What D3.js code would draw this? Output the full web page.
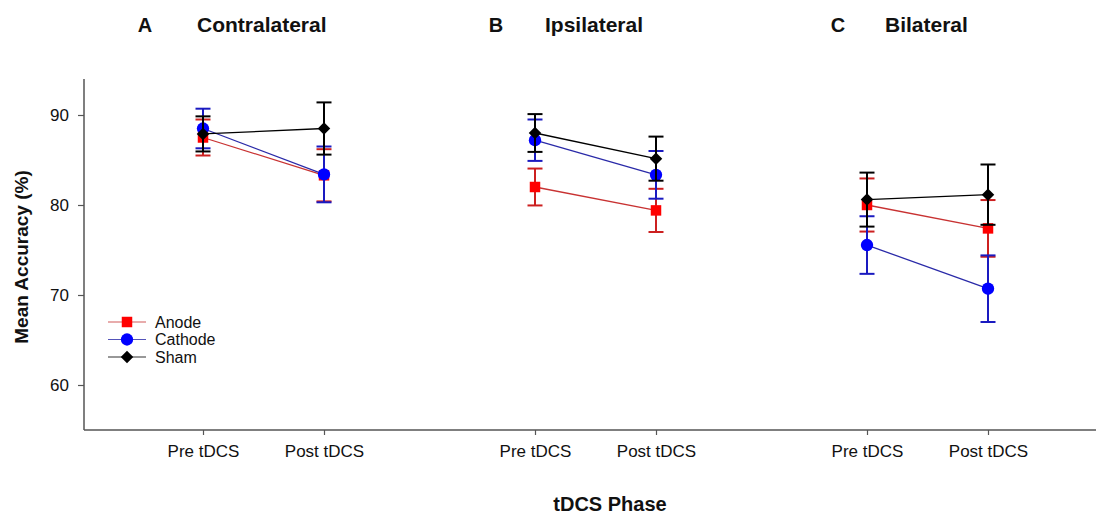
<!DOCTYPE html>
<html>
<head>
<meta charset="utf-8">
<script src="https://cdn.jsdelivr.net/npm/d3@7"></script>
<style>
  html, body { margin: 0; padding: 0; background: #fff; }
  svg { display: block; }
  text { font-family: "Liberation Sans", Arial, Helvetica, sans-serif; }
</style>
</head>
<body>
<svg id="chart" width="1096" height="518"></svg>
<script>
// ---- data ----
const panels = ["A", "B", "C"];
const panelNames = ["Contralateral", "Ipsilateral", "Bilateral"];
const phases = ["Pre tDCS", "Post tDCS"];
const seriesNames = ["Anode", "Cathode", "Sham"];
const yTicks = [60, 70, 80, 90];

// means per panel [pre, post]
const anodeMean   = [[87.5, 83.3], [82.0, 79.4], [80.0, 77.4]];
const anodeErr    = [[2.0, 2.9],   [2.05, 2.4], [2.95, 3.15]];
const cathodeMean = [[88.5, 83.4], [87.2, 83.35], [75.55, 70.7]];
const cathodeErr  = [[2.2, 3.1],   [2.3, 2.65],  [3.2, 3.7]];
const shamMean    = [[87.9, 88.5], [88.0, 85.15], [80.6, 81.15]];
const shamErr     = [[1.95, 2.9],  [2.1, 2.45],  [3.0, 3.35]];

// ---- layout ----
const svg = d3.select("#chart");
const axisColor = "#555";
const yTop = 79, yBottom = 430, xLeft = 84;
const titleLetterX = [145, 496, 838];
const titleNameX = [197, 545, 885];

const y = d3.scaleLinear().domain([55, 94]).range([yBottom, yTop]);
const panelScale = d3.scaleBand().domain(panels).range([84, 1080]).paddingInner(0).paddingOuter(0);
const phaseScale = d3.scalePoint().domain(phases).range([119, 240]);

const styles = {
  Anode:   { line: "#c83232", err: "#cc2020", fill: "#ff0000", shape: d3.symbolSquare, size: 110, rot: 0 },
  Cathode: { line: "#2a2aa8", err: "#1a1ac0", fill: "#0000ff", shape: d3.symbolCircle, size: 120, rot: 0 },
  Sham:    { line: "#000000", err: "#000000", fill: "#000000", shape: d3.symbolSquare, size: 78,  rot: 45 }
};
const means = { Anode: anodeMean, Cathode: cathodeMean, Sham: shamMean };
const errs  = { Anode: anodeErr,  Cathode: cathodeErr,  Sham: shamErr };

// ---- axes ----
const yAxis = svg.append("g").attr("transform", `translate(${xLeft},0)`)
  .call(d3.axisLeft(y).tickValues(yTicks).tickSize(6).tickPadding(9));
yAxis.select(".domain").attr("d", `M0,${yTop}V${yBottom}`).attr("stroke", axisColor).attr("stroke-width", 1.5);
yAxis.selectAll(".tick line").attr("stroke", axisColor).attr("stroke-width", 1.2);
yAxis.selectAll(".tick text").attr("font-size", 17).attr("fill", "#111")
  .style("font-family", '"Liberation Sans", Arial, sans-serif');

svg.append("line").attr("x1", xLeft).attr("x2", 1096).attr("y1", yBottom).attr("y2", yBottom)
  .attr("stroke", axisColor).attr("stroke-width", 1.5);

panels.forEach((p, i) => {
  const g = svg.append("g").attr("transform", `translate(${panelScale(p)},${yBottom})`);
  const ax = g.call(d3.axisBottom(phaseScale).tickSize(5).tickPadding(10));
  ax.select(".domain").remove();
  ax.selectAll(".tick line").attr("stroke", axisColor).attr("stroke-width", 1.2);
  ax.selectAll(".tick text").attr("font-size", 17).attr("fill", "#111")
    .style("font-family", '"Liberation Sans", Arial, sans-serif');
});

// titles
panels.forEach((p, i) => {
  svg.append("text").attr("x", titleLetterX[i]).attr("y", 32).attr("text-anchor", "middle")
    .attr("font-size", 20).attr("font-weight", "bold").attr("fill", "#111").text(p);
  svg.append("text").attr("x", titleNameX[i]).attr("y", 32)
    .attr("font-size", 21).attr("font-weight", "bold").attr("fill", "#111").text(panelNames[i]);
});

// axis labels
svg.append("text").attr("transform", "translate(28,257) rotate(-90)").attr("text-anchor", "middle")
  .attr("font-size", 19).attr("font-weight", "bold").attr("fill", "#111").text("Mean Accuracy (%)");
svg.append("text").attr("x", 610).attr("y", 511).attr("text-anchor", "middle")
  .attr("font-size", 20).attr("font-weight", "bold").attr("fill", "#111").text("tDCS Phase");

// ---- series ----
const capHalf = 7.5;
panels.forEach((p, pi) => {
  const g = svg.append("g").attr("transform", `translate(${panelScale(p)},0)`);
  seriesNames.forEach(s => {
    const st = styles[s];
    const pts = phases.map((ph, k) => ({ x: phaseScale(ph), v: means[s][pi][k], e: errs[s][pi][k] }));
    const sg = g.append("g");
    pts.forEach(d => {
      sg.append("line").attr("x1", d.x).attr("x2", d.x).attr("y1", y(d.v + d.e)).attr("y2", y(d.v - d.e))
        .attr("stroke", st.err).attr("stroke-width", 2);
      [d.v + d.e, d.v - d.e].forEach(c => {
        sg.append("line").attr("x1", d.x - capHalf).attr("x2", d.x + capHalf).attr("y1", y(c)).attr("y2", y(c))
          .attr("stroke", st.err).attr("stroke-width", 2);
      });
    });
    sg.append("path").datum(pts)
      .attr("d", d3.line().x(d => d.x).y(d => y(d.v)))
      .attr("fill", "none").attr("stroke", st.line).attr("stroke-width", 1.3);
    sg.selectAll(".m").data(pts).enter().append("path")
      .attr("transform", d => `translate(${d.x},${y(d.v)}) rotate(${st.rot})`)
      .attr("d", d3.symbol().type(st.shape).size(st.size))
      .attr("fill", st.fill);
  });
});

// ---- legend ----
const legendY = d3.scalePoint().domain(seriesNames).range([322, 357]);
seriesNames.forEach(s => {
  const st = styles[s];
  const ly = legendY(s);
  svg.append("line").attr("x1", 108).attr("x2", 146).attr("y1", ly).attr("y2", ly)
    .attr("stroke", st.line).attr("stroke-width", 1.2).attr("opacity", 0.8);
  svg.append("path").attr("transform", `translate(127,${ly}) rotate(${st.rot})`)
    .attr("d", d3.symbol().type(st.shape).size(st.size)).attr("fill", st.fill);
  svg.append("text").attr("x", 155).attr("y", ly + 5.5).attr("font-size", 16).attr("fill", "#111").text(s);
});
</script>
</body>
</html>
